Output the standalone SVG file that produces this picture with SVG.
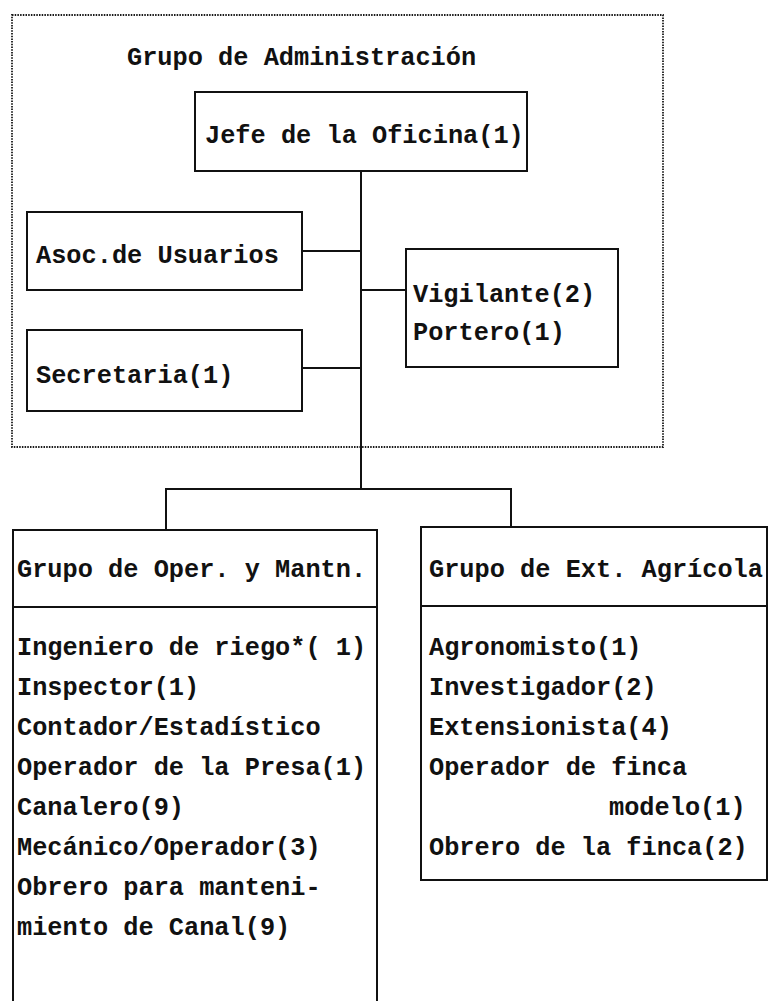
<svg xmlns="http://www.w3.org/2000/svg" width="769" height="1001" viewBox="0 0 769 1001">
<style>
.t{font-family:"Liberation Mono","DejaVu Sans Mono",monospace;font-weight:bold;font-size:25.3px;fill:#111}
.b{fill:none;stroke:#111;stroke-width:2}
.d{fill:none;stroke:#1a1a1a;stroke-width:1.8;stroke-dasharray:1.5 1.2}
.c{fill:none;stroke:#111;stroke-width:2}
</style>
<rect width="769" height="1001" fill="#fff"/>
<g id="admin-group">
<rect class="d" x="12" y="15" width="651" height="432"/>
<text class="t" x="127" y="65">Grupo de Administración</text>
</g>
<g id="connectors">
<path class="c" d="M361,171 V489"/>
<path class="c" d="M302,251 H361"/>
<path class="c" d="M361,290 H406"/>
<path class="c" d="M302,368 H361"/>
<path class="c" d="M166,530 V489 H511 V527"/>
</g>
<g id="jefe">
<rect class="b" x="195" y="92" width="332" height="79"/>
<text class="t" x="205" y="143">Jefe de la Oficina(1)</text>
</g>
<g id="asoc">
<rect class="b" x="27" y="212" width="275" height="78"/>
<text class="t" x="36" y="263">Asoc.de Usuarios</text>
</g>
<g id="vigilante">
<rect class="b" x="406" y="249" width="212" height="118"/>
<text class="t" x="413" y="302">Vigilante(2)</text>
<text class="t" x="413" y="340">Portero(1)</text>
</g>
<g id="secretaria">
<rect class="b" x="27" y="330" width="275" height="81"/>
<text class="t" x="36" y="383">Secretaria(1)</text>
</g>
<g id="oper">
<path class="b" d="M13,1001 V530 H377 V1001"/>
<path class="b" d="M13,607 H377"/>
<text class="t" x="17" y="577">Grupo de Oper. y Mantn.</text>
<text class="t" x="17" y="655">Ingeniero de riego*( 1)</text>
<text class="t" x="17" y="695">Inspector(1)</text>
<text class="t" x="17" y="735">Contador/Estadístico</text>
<text class="t" x="17" y="775">Operador de la Presa(1)</text>
<text class="t" x="17" y="815">Canalero(9)</text>
<text class="t" x="17" y="855">Mecánico/Operador(3)</text>
<text class="t" x="17" y="895">Obrero para manteni-</text>
<text class="t" x="17" y="935">miento de Canal(9)</text>
</g>
<g id="ext">
<rect class="b" x="421" y="527" width="346" height="353"/>
<path class="b" d="M421,606 H767"/>
<text class="t" x="429" y="577">Grupo de Ext. Agrícola</text>
<text class="t" x="429" y="655">Agronomisto(1)</text>
<text class="t" x="429" y="695">Investigador(2)</text>
<text class="t" x="429" y="735">Extensionista(4)</text>
<text class="t" x="429" y="775">Operador de finca</text>
<text class="t" x="609" y="815">modelo(1)</text>
<text class="t" x="429" y="855">Obrero de la finca(2)</text>
</g>
</svg>
